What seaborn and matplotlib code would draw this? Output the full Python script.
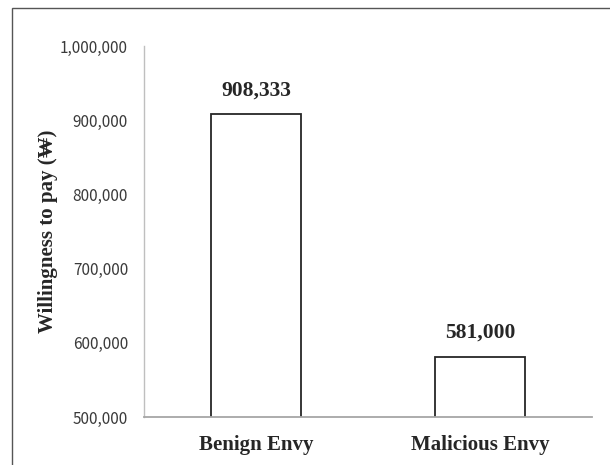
import matplotlib
matplotlib.use("Agg")
import matplotlib.pyplot as plt
import matplotlib.ticker as mticker
from matplotlib.patches import Rectangle
import seaborn as sns
import pandas as pd

# data
groups = ["Benign Envy", "Malicious Envy"]
wtp = [908333, 581000]
y_ticks = [500000, 600000, 700000, 800000, 900000, 1000000]

df = pd.DataFrame({"group": groups, "wtp": wtp})

sns.set_style("white")
serif = ["Liberation Serif", "DejaVu Serif"]

fig = plt.figure(figsize=(6.1, 4.65), dpi=100)
ax = fig.add_axes([144 / 610, 1 - 417 / 465, (592 - 144) / 610, (417 - 46) / 465])

sns.barplot(data=df, x="group", y="wtp", ax=ax, color="white",
            edgecolor="#262626", linewidth=1.3, width=0.4)

ax.set_ylim(500000, 1000000)
ax.set_yticks(y_ticks)
ax.yaxis.set_major_formatter(mticker.StrMethodFormatter("{x:,.0f}"))
ax.tick_params(axis="y", length=0, pad=11.5, labelsize=11, labelcolor="#3a3a3a")
for lab in ax.get_yticklabels():
    lab.set_family(["Noto Sans CJK KR", "DejaVu Sans"])
ax.tick_params(axis="x", length=0, pad=13)
for lab in ax.get_xticklabels():
    lab.set_family(serif)
    lab.set_fontweight("bold")
    lab.set_fontsize(15)

ax.set_xlabel("")
ax.set_ylabel("Willingness to pay (₩)", family=serif, fontweight="bold", fontsize=15)
ax.yaxis.set_label_coords((58 - 144) / 448, 0.5)

for i, v in enumerate(wtp):
    ax.annotate(f"{v:,}", (i, v), xytext=(0, 10), textcoords="offset points",
                ha="center", va="bottom", family=serif, fontweight="bold", fontsize=15.5)

sns.despine(ax=ax, top=True, right=True)
ax.spines["left"].set_color("#bfbfbf")
ax.spines["bottom"].set_color("#a6a6a6")
ax.spines["left"].set_linewidth(1.0)
ax.spines["bottom"].set_linewidth(1.3)

# outer frame (only the left and top edges fall inside the image)
fig.add_artist(Rectangle((12 / 610, -0.5), 1.2, 1.5 - 8 / 465, transform=fig.transFigure,
                         fill=False, edgecolor="#555555", linewidth=1.0))

fig.savefig("out.png", dpi=100)
